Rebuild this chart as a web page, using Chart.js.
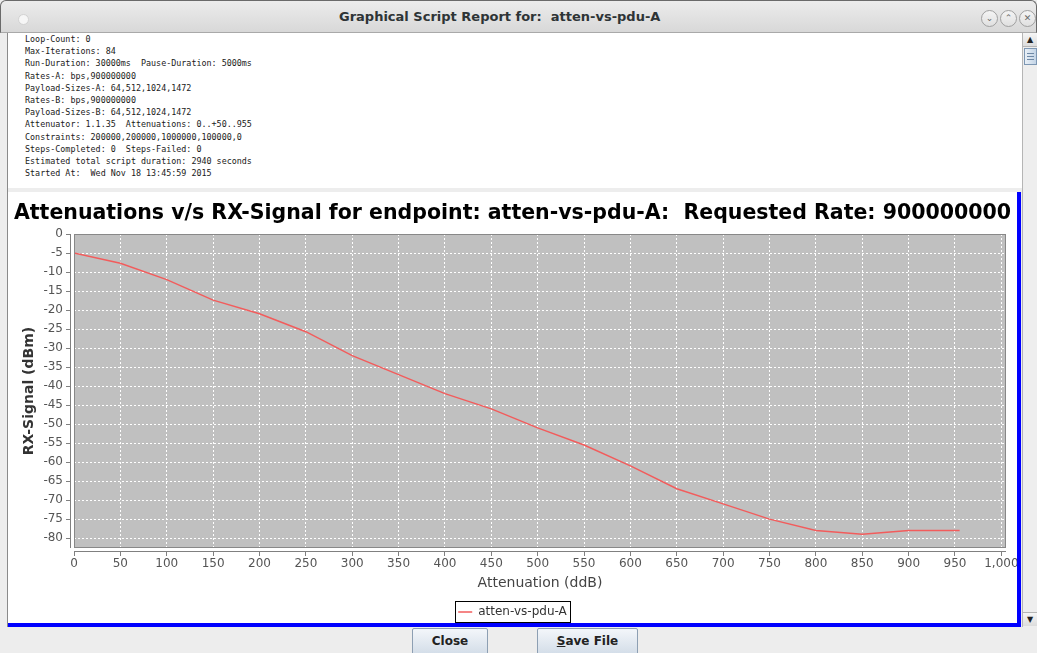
<!DOCTYPE html>
<html>
<head>
<meta charset="utf-8">
<title>Graphical Script Report for: atten-vs-pdu-A</title>
<script src="https://cdn.jsdelivr.net/npm/chart.js"></script>
<style>
  html, body { margin: 0; padding: 0; }
  body { width: 1037px; height: 653px; position: relative; overflow: hidden; background: #ededed; font-family: "DejaVu Sans", sans-serif; }
  #barra { position: absolute; left: 0; top: 0; width: 1035px; height: 31px; border: 1px solid #6a6a6a; border-bottom-color: #a9a9a9; border-radius: 6px 6px 0 0; background: linear-gradient(#ececec, #d8d8d8); }
  #barra .titulo { position: absolute; left: 338px; top: 8px; font-weight: bold; font-size: 13px; color: #2e3436; white-space: pre; }
  #barra .punto { position: absolute; left: 17px; top: 13px; width: 9px; height: 9px; border-radius: 50%; background: #f6f6f6; border: 1px solid #d2d2d2; }
  #barra .btn { position: absolute; top: 9px; width: 15px; height: 15px; border-radius: 50%; border: 1px solid #a0a0a0; background: linear-gradient(#f4f4f4, #e0e0e0); color: #6a6a6a; font-size: 9px; line-height: 15px; text-align: center; }
  #marcoIzq { position: absolute; left: 7px; top: 33px; width: 1px; height: 594px; background: #8a8a8a; }
  #texto { position: absolute; left: 8px; top: 33px; width: 1015px; height: 155px; background: #fff; }
  #texto pre { margin: 0; padding: 0 0 0 17px; font-family: "DejaVu Sans Mono", monospace; font-size: 8.4px; line-height: 12.2px; color: #1a1a1a; }
  #panel { position: absolute; left: 8px; top: 192px; width: 1009px; height: 431px; background: #fff; }
  #lienzo { position: absolute; left: 8px; top: 192px; width: 1009px; height: 436px; }
  #azulDer { position: absolute; left: 1017px; top: 192px; width: 4px; height: 435px; background: #0000ff; }
  #azulInf { position: absolute; left: 8px; top: 623px; width: 1013px; height: 4px; background: #0000ff; }
  #scroll { position: absolute; left: 1022px; top: 33px; width: 14px; height: 594px; background: #eeeeee; border-left: 1px solid #b5b5b5; }
  #scroll .flecha { position: absolute; left: 0; width: 14px; height: 13px; background: linear-gradient(#f6f6f6, #dcdcdc); border-bottom: 1px solid #b5b5b5; font-size: 8px; line-height: 13px; text-align: center; color: #222; }
  #scroll .pulgar { position: absolute; left: 1px; top: 15px; width: 11px; height: 15px; border: 1px solid #7d97b3; background: linear-gradient(90deg, #e9f0f7, #c3d4e6); }
  #scroll .pulgar i { position: absolute; left: 2px; width: 7px; height: 1px; background: #6e88a6; }
  .boton { position: absolute; top: 628px; height: 25px; border: 1px solid #8d9fb3; border-radius: 2px; background: linear-gradient(#f3f6fa, #d3dde8); font-weight: bold; font-size: 12px; line-height: 25px; text-align: center; color: #222; }
</style>
</head>
<body>
<div id="barra">
  <div class="punto"></div>
  <div class="titulo">Graphical Script Report for:  atten-vs-pdu-A</div>
  <div class="btn" style="left:980px">&#8964;</div>
  <div class="btn" style="left:999px">&#8963;</div>
  <div class="btn" style="left:1018px">&#10005;</div>
</div>
<div id="texto"><pre id="resumen"></pre></div>
<div id="marcoIzq"></div>
<div id="panel"></div>
<div id="lienzo"><canvas id="grafico"></canvas></div>
<div id="azulDer"></div>
<div id="azulInf"></div>
<div id="scroll">
  <div class="flecha" style="top:0">&#9650;</div>
  <div class="pulgar"><i style="top:4px"></i><i style="top:7px"></i><i style="top:10px"></i></div>
  <div class="flecha" style="top:579px;border-bottom:none;border-top:1px solid #b5b5b5">&#9660;</div>
</div>
<div class="boton" style="left:412px;width:74px">Close</div>
<div class="boton" style="left:537px;width:99px"><u>S</u>ave File</div>

<script>
var lineasResumen = [
    "Loop-Count: 0",
    "Max-Iterations: 84",
    "Run-Duration: 30000ms  Pause-Duration: 5000ms",
    "Rates-A: bps,900000000",
    "Payload-Sizes-A: 64,512,1024,1472",
    "Rates-B: bps,900000000",
    "Payload-Sizes-B: 64,512,1024,1472",
    "Attenuator: 1.1.35  Attenuations: 0..+50..955",
    "Constraints: 200000,200000,1000000,100000,0",
    "Steps-Completed: 0  Steps-Failed: 0",
    "Estimated total script duration: 2940 seconds",
    "Started At:  Wed Nov 18 13:45:59 2015"
];

var titulo = "Attenuations v/s RX-Signal for endpoint: atten-vs-pdu-A:  Requested Rate: 900000000";
var serieNombre = "atten-vs-pdu-A";
var tituloX = "Attenuation (ddB)";
var tituloY = "RX-Signal (dBm)";

// atenuacion (ddB) y señal RX (dBm)
var atenuaciones = [0, 50, 100, 150, 200, 250, 300, 350, 400, 450, 500, 550, 600, 650, 700, 750, 800, 850, 900, 950, 955];
var senalRx = [-5, -7.7, -12, -17.4, -21, -25.7, -32, -37, -42, -46, -51, -55.5, -61, -67, -71, -75, -78, -79, -78, -78, -78];

var rangoX = [0, 1005];
var rangoY = [-82.6, 0];
var pasoX = 50;
var pasoY = 5;

document.getElementById("resumen").textContent = lineasResumen.join("\n");

var puntos = [];
for (var i = 0; i < atenuaciones.length; i++) {
    puntos.push({ x: atenuaciones[i], y: senalRx[i] });
}

Chart.defaults.font.family = "DejaVu Sans";

// fondo gris del plot, ejes desplazados y borde de la leyenda
var fondoPlot = {
    id: "fondoPlot",
    beforeDraw: function (chart) {
        var a = chart.chartArea, ctx = chart.ctx;
        ctx.save();
        ctx.fillStyle = "#c0c0c0";
        ctx.fillRect(a.left, a.top, a.right - a.left, a.bottom - a.top);
        ctx.restore();
    },
    afterDraw: function (chart) {
        var a = chart.chartArea, ctx = chart.ctx;
        ctx.save();
        ctx.fillStyle = "#fff";
        ctx.fillRect(a.left - 4, a.top - 1, 4, a.bottom - a.top + 5);
        ctx.fillRect(a.left - 4, a.bottom, a.right - a.left + 5, 4);
        ctx.strokeStyle = "#888";
        ctx.lineWidth = 1;
        ctx.strokeRect(Math.round(a.left) + 0.5, Math.round(a.top) + 0.5, Math.round(a.right - a.left) - 1, Math.round(a.bottom - a.top) - 1);
        ctx.strokeStyle = "#808080";
        ctx.beginPath();
        ctx.moveTo(Math.round(a.left) - 3.5, a.top);
        ctx.lineTo(Math.round(a.left) - 3.5, a.bottom);
        ctx.moveTo(a.left, Math.round(a.bottom) + 3.5);
        ctx.lineTo(a.right, Math.round(a.bottom) + 3.5);
        ctx.stroke();

        var hb = chart.legend && chart.legend.legendHitBoxes && chart.legend.legendHitBoxes[0];
        if (hb) {
            ctx.strokeStyle = "#000";
            ctx.strokeRect(Math.round(hb.left - 3) + 0.5, Math.round(hb.top - 5) + 0.5, Math.round(hb.width + 6), 21);
        }
        ctx.restore();
    }
};

new Chart(document.getElementById("grafico"), {
    type: "line",
    data: {
        datasets: [
            {
                label: serieNombre,
                data: puntos,
                borderColor: "#f25c5c",
                backgroundColor: "#f25c5c",
                borderWidth: 1.5,
                pointRadius: 0,
                tension: 0,
                fill: false
            }
        ]
    },
    options: {
        responsive: true,
        maintainAspectRatio: false,
        animation: false,
        layout: { padding: 0 },
        plugins: {
            title: {
                display: true,
                text: titulo,
                color: "#000",
                font: { size: 20.5, weight: "bold" },
                padding: { top: 9, bottom: 8.4 }
            },
            legend: {
                position: "bottom",
                labels: {
                    usePointStyle: true,
                    pointStyle: "line",
                    pointStyleWidth: 14,
                    boxWidth: 14,
                    boxHeight: 12,
                    padding: 10,
                    color: "#333",
                    font: { size: 12 }
                }
            },
            tooltip: { enabled: false }
        },
        scales: {
            x: {
                type: "linear",
                min: rangoX[0],
                max: rangoX[1],
                ticks: { stepSize: pasoX, includeBounds: false, color: "#555", padding: 1, font: { size: 12 } },
                grid: { color: "#fff", tickColor: "#808080", tickLength: 8 },
                border: { display: false, dash: [2, 2] },
                title: { display: true, text: tituloX, color: "#444", font: { size: 14 }, padding: { top: 0, bottom: 4.6 } },
                afterFit: function (s) { s.height = 48; s.paddingRight = 11; }
            },
            y: {
                type: "linear",
                min: rangoY[0],
                max: rangoY[1],
                ticks: { stepSize: pasoY, includeBounds: false, color: "#555", padding: 3, font: { size: 12 } },
                grid: { color: "#fff", tickColor: "#808080", tickLength: 8 },
                border: { display: false, dash: [2, 2] },
                title: { display: true, text: tituloY, color: "#333", font: { size: 14, weight: "bold" }, padding: { top: 13, bottom: 0 } },
                afterFit: function (s) { s.width = 66; }
            }
        }
    },
    plugins: [fondoPlot]
});
</script>
</body>
</html>
